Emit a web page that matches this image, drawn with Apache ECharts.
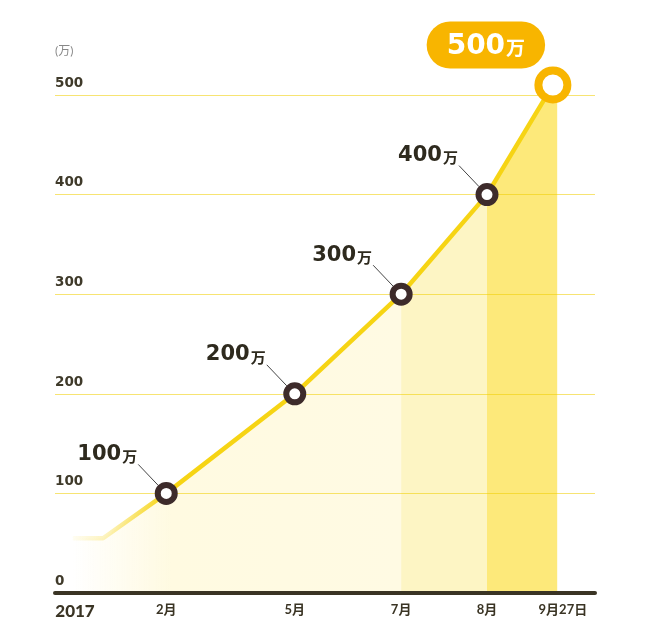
<!DOCTYPE html>
<html><head><meta charset="utf-8">
<script src="https://cdn.jsdelivr.net/npm/echarts@6/dist/echarts.min.js"></script>
<style>html,body{margin:0;padding:0;background:#fff}#c{width:650px;height:638px}</style>
</head><body><div id="c"></div>
<script>
// x axis milestones (arbitrary layout units along the time axis, 0..100)
const xTickLabels = ['2017', '2月', '5月', '7月', '8月', '9月27日'];
const xTickPos = [0, 20.6, 44.4, 64.1, 80, 92.2];
// cumulative users (万)
const lineX = [3.3, 8.9, 20.6, 44.4, 64.1, 80, 92.2];
const lineY = [55, 55, 100, 200, 300, 400, 510];
const pointLabels = ['', '', '100', '200', '300', '400', '500'];
// shaded bands
const bandEdges = [64.1, 80];
const fillEndX = 93;

const FONT = "Lato, 'Noto Sans CJK JP', sans-serif";
const WIDE = "'DejaVu Sans', 'Noto Sans CJK JP', sans-serif";
const CJK = "'Noto Sans CJK JP', sans-serif";

function bandData(x0, x1, extend) {
  const d = [];
  lineX.forEach((x, i) => { if (x >= x0 && x <= x1) d.push([x, lineY[i]]); });
  if (extend) d.push([fillEndX, lineY[lineY.length - 1]]);
  return d;
}

const bandSeries = [
  { data: bandData(-1, bandEdges[0]), color: { type: 'linear', x: 0, y: 0, x2: 1, y2: 0,
      colorStops: [{ offset: 0, color: 'rgba(255,250,225,0)' }, { offset: 0.3, color: 'rgba(255,250,225,1)' }, { offset: 1, color: '#fffae3' }] } },
  { data: bandData(bandEdges[0], bandEdges[1]), color: '#fdf5c4' },
  { data: bandData(bandEdges[1], 1000, true), color: '#fde97a' }
].map(b => ({
  type: 'line', z: 2, clip: false, silent: true, symbol: 'none',
  lineStyle: { width: 0, opacity: 0 },
  areaStyle: { color: b.color, opacity: 1 },
  data: b.data
}));

const last = lineX.length - 1;
const lineData = lineX.map((x, i) => {
  const item = { value: [x, lineY[i]] };
  if (!pointLabels[i]) {
    item.symbol = 'none';
    item.label = { show: false };
  } else if (i === last) {
    item.symbolSize = 29;
    item.itemStyle = { color: '#fff', borderColor: '#f8b500', borderWidth: 8 };
    item.label = {
      show: true, position: 'inside', offset: [-67, -40],
      backgroundColor: '#f8b500', borderRadius: 24, padding: [9, 20, 5, 20],
      formatter: '{w|' + pointLabels[i] + '}{v|万}',
      rich: {
        w: { fontSize: 28, lineHeight: 33, fontWeight: 'bold', color: '#fff', fontFamily: WIDE },
        v: { fontSize: 19, lineHeight: 33, fontWeight: 'bold', color: '#fff', fontFamily: CJK, padding: [2, 0, 0, 1] }
      }
    };
  }
  return item;
});

const chart = echarts.init(document.getElementById('c'));
chart.setOption({
  animation: false,
  grid: { left: 55, right: 55, top: 95, bottom: 45 },
  xAxis: {
    type: 'value', min: 0, max: 100, z: 3,
    axisLine: { show: true, lineStyle: { color: '#3a3424', width: 4 } },
    axisTick: { show: false }, splitLine: { show: false },
    axisLabel: {
      customValues: xTickPos, margin: 10,
      formatter: v => {
        const i = xTickPos.indexOf(v);
        if (i < 0) return '';
        if (i === 0) return '{y|' + xTickLabels[i] + '}';
        if (i === xTickPos.length - 1) return '{e|' + xTickLabels[i] + '}';
        return '{m|' + xTickLabels[i] + '}';
      },
      rich: {
        y: { fontSize: 17, fontWeight: 900, color: '#3a3424', fontFamily: FONT, padding: [0, 0, 0, 40] },
        m: { fontSize: 13, fontWeight: 'bold', color: '#3a3424', fontFamily: FONT },
        e: { fontSize: 13, fontWeight: 'bold', color: '#3a3424', fontFamily: FONT, padding: [0, 0, 0, 20] }
      }
    }
  },
  yAxis: {
    type: 'value', min: 0, max: 500, interval: 100, z: 3,
    name: '(万)', nameLocation: 'end', nameGap: 38,
    nameTextStyle: { align: 'left', verticalAlign: 'bottom', fontSize: 12, color: '#888', fontFamily: FONT },
    axisLine: { show: false }, axisTick: { show: false },
    splitLine: { lineStyle: { color: 'rgba(240,205,0,0.55)', width: 1 } },
    axisLabel: { inside: true, margin: 0, verticalAlign: 'bottom', padding: [0, 0, 5, 0],
      color: '#3f3a2a', fontSize: 13.5, fontWeight: 'bold', fontFamily: WIDE }
  },
  series: bandSeries.concat([{
    type: 'line', z: 5, clip: false, silent: true,
    symbol: 'circle', symbolSize: 17, showAllSymbol: true,
    itemStyle: { color: '#fff', borderColor: '#3d2b2b', borderWidth: 6 },
    lineStyle: { width: 4.5, color: { type: 'linear', x: 0, y: 0, x2: 1, y2: 0,
      colorStops: [{ offset: 0, color: 'rgba(246,212,20,0.04)' }, { offset: 0.08, color: 'rgba(246,212,20,0.3)' }, { offset: 0.2, color: '#f6d414' }, { offset: 1, color: '#f6d414' }] } },
    label: {
      show: true, position: 'inside', offset: [-59, -39],
      formatter: p => '{a|' + pointLabels[p.dataIndex] + '}{b|万}',
      rich: {
        a: { fontSize: 21, fontWeight: 'bold', color: '#2e2a1e', fontFamily: WIDE },
        b: { fontSize: 15, fontWeight: 'bold', color: '#2e2a1e', fontFamily: CJK, padding: [4, 0, 0, 1] }
      }
    },
    data: lineData
  }])
});

// leader lines from each milestone label to its marker
const leaders = [];
lineX.forEach((x, i) => {
  if (!pointLabels[i] || i === last) return;
  const p = chart.convertToPixel({ seriesIndex: 3 }, [x, lineY[i]]);
  leaders.push({
    type: 'line', z: 4, silent: true,
    shape: { x1: p[0] - 28, y1: p[1] - 29, x2: p[0] - 8, y2: p[1] - 8 },
    style: { stroke: '#444', lineWidth: 1 }
  });
});
chart.setOption({ graphic: leaders });
</script>
</body></html>
